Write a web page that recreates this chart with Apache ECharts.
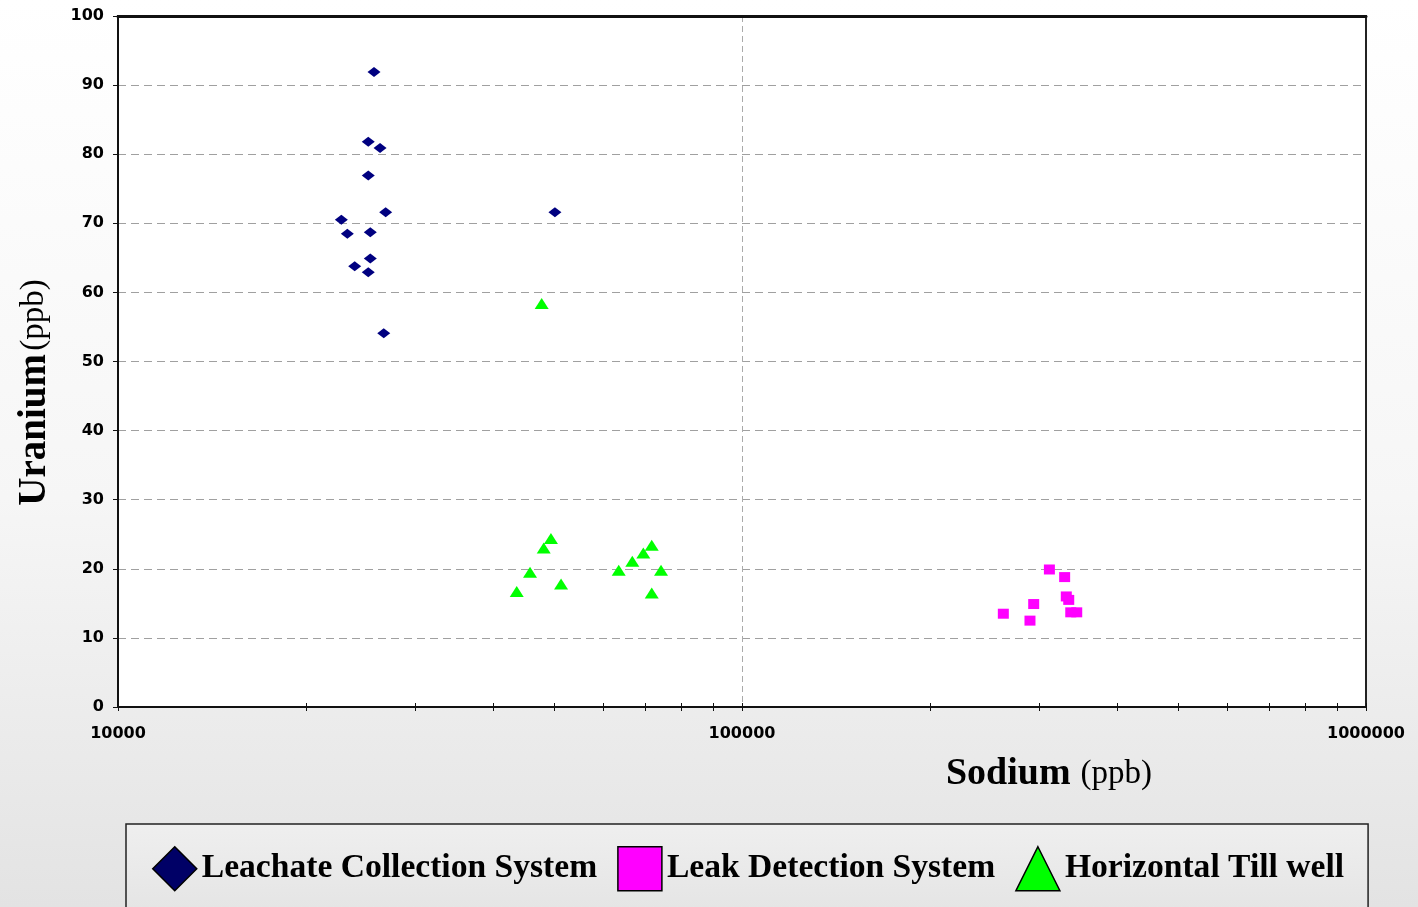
<!DOCTYPE html>
<html>
<head>
<meta charset="utf-8">
<script src="https://cdn.jsdelivr.net/npm/echarts@6/dist/echarts.min.js"></script>
<style>
html,body{margin:0;padding:0;}
#chart{width:1418px;height:907px;}
</style>
</head>
<body>
<div id="chart"></div>
<script>
// Sodium (ppb), Uranium (ppb)
var leachateSodium  = [25720, 25180, 26300, 25180, 26850, 22800, 23310, 25370, 25370, 23950, 25180, 26660, 50140];
var leachateUranium = [91.9, 81.8, 80.9, 76.9, 71.6, 70.5, 68.5, 68.7, 64.9, 63.8, 62.9, 54.1, 71.6];

var leakSodium  = [310900, 328900, 330900, 333900, 293400, 262300, 289400, 336400, 343900];
var leakUranium = [19.9, 18.8, 16.0, 15.5, 14.9, 13.5, 12.5, 13.7, 13.7];

var tillSodium  = [47750, 49410, 48110, 45740, 43550, 51290, 63450, 66710, 69480, 71670, 74170, 71670];
var tillUranium = [58.4, 24.4, 23.0, 19.5, 16.7, 17.8, 19.8, 21.1, 22.3, 23.4, 19.8, 16.5];

var seriesNames = ['Leachate Collection System', 'Leak Detection System', 'Horizontal Till well'];
var xTickValues = [10000, 20000, 30000, 40000, 50000, 60000, 70000, 80000, 90000, 100000,
                   200000, 300000, 400000, 500000, 600000, 700000, 800000, 900000, 1000000];
var yMin = 0, yMax = 100, yInterval = 10;
var xMin = 10000, xMax = 1000000;

function pairs(xs, ys) { return xs.map(function (x, i) { return [x, ys[i]]; }); }

var chart = echarts.init(document.getElementById('chart'));
var tickAxisBase = {
  type: 'log', logBase: 10, min: xMin, max: xMax, gridIndex: 0, position: 'bottom',
  axisLine: { show: false }, axisLabel: { show: false }, splitLine: { show: false }
};
chart.setOption({
  animation: false,
  backgroundColor: {
    type: 'linear', x: 0, y: 0, x2: 0, y2: 1,
    colorStops: [{ offset: 0, color: '#ffffff' }, { offset: 0.55, color: '#f6f6f6' }, { offset: 1, color: '#e3e3e3' }]
  },
  grid: {
    left: 118, right: 52, top: 16, bottom: 200,
    show: true, backgroundColor: '#ffffff', borderColor: '#111', borderWidth: 2
  },
  legend: {
    left: 126, top: 824,
    padding: [22, 24, 40, 26],
    backgroundColor: { type: 'linear', x: 0, y: 0, x2: 0, y2: 1,
      colorStops: [{ offset: 0, color: '#efefef' }, { offset: 1, color: '#e2e2e2' }] },
    borderColor: '#222', borderWidth: 1.5,
    itemWidth: 44, itemHeight: 44, itemGap: 20,
    textStyle: { fontFamily: 'Liberation Serif', fontWeight: 'bold', fontSize: 33.6, color: '#000', padding: [7, 0, 0, 0] },
    data: [
      { name: seriesNames[0], icon: 'diamond', itemStyle: { color: '#000066', borderColor: '#000', borderWidth: 1.5 } },
      { name: seriesNames[1], icon: 'rect', itemStyle: { color: '#ff00ff', borderColor: '#000', borderWidth: 1.5 } },
      { name: seriesNames[2], icon: 'triangle', itemStyle: { color: '#00ff00', borderColor: '#000', borderWidth: 1.5 } }
    ]
  },
  xAxis: [
    {
      type: 'log', logBase: 10, min: xMin, max: xMax, gridIndex: 0, position: 'bottom',
      name: '{b|Sodium}{r|(ppb)}',
      nameLocation: 'middle', nameGap: 48,
      nameTextStyle: {
        padding: [0, 0, 0, 614],
        rich: {
          b: { fontFamily: 'Liberation Serif', fontWeight: 'bold', fontSize: 38, color: '#000', padding: [0, 10, 0, 0] },
          r: { fontFamily: 'Liberation Serif', fontSize: 33, color: '#000' }
        }
      },
      axisLine: { show: true, onZero: false, lineStyle: { color: '#111', width: 2 } },
      axisTick: { show: false },
      axisLabel: {
        margin: 19,
        fontFamily: 'DejaVu Sans', fontWeight: 'bold', fontSize: 16, color: '#000',
        formatter: function (v) { return String(Math.round(v)); }
      },
      splitLine: { show: true, lineStyle: { color: '#aaaaaa', width: 1, type: [6, 4] } },
      minorTick: { show: false }, minorSplitLine: { show: false }
    },
    Object.assign({}, tickAxisBase, {
      axisTick: { show: true, inside: false, length: 4, customValues: xTickValues, lineStyle: { color: '#111', width: 1 } }
    }),
    Object.assign({}, tickAxisBase, {
      axisTick: { show: true, inside: true, length: 4, customValues: xTickValues, lineStyle: { color: '#111', width: 1 } }
    }),
    {
      type: 'log', logBase: 10, min: xMin, max: xMax, gridIndex: 0, position: 'top',
      axisLine: { show: true, lineStyle: { color: '#111', width: 3 } },
      axisTick: { show: false }, axisLabel: { show: false }, splitLine: { show: false }
    }
  ],
  yAxis: [
    {
      type: 'value', min: yMin, max: yMax, interval: yInterval, position: 'left',
      name: '{b|Uranium} {r|(ppb)}',
      nameLocation: 'middle', nameGap: 64, nameRotate: 90,
      nameTextStyle: {
        padding: [0, 62, 0, 0],
        rich: {
          b: { fontFamily: 'Liberation Serif', fontWeight: 'bold', fontSize: 39, color: '#000' },
          r: { fontFamily: 'Liberation Serif', fontSize: 33, color: '#000' }
        }
      },
      axisLine: { show: true, lineStyle: { color: '#111', width: 2 } },
      axisTick: { show: true, length: 5, lineStyle: { color: '#111' } },
      axisLabel: { margin: 14, fontFamily: 'DejaVu Sans', fontWeight: 'bold', fontSize: 16, color: '#000' },
      splitLine: { show: true, lineStyle: { color: '#a0a0a0', width: 1.2, type: [8, 5] } }
    },
    {
      type: 'value', min: yMin, max: yMax, interval: yInterval, position: 'right',
      axisLine: { show: true, lineStyle: { color: '#222', width: 2 } },
      axisTick: { show: false }, axisLabel: { show: false }, splitLine: { show: false }
    }
  ],
  series: [
    {
      name: seriesNames[0], type: 'scatter', xAxisIndex: 0, yAxisIndex: 0,
      symbol: 'diamond', symbolSize: [13, 10],
      itemStyle: { color: '#000080', opacity: 1 },
      data: pairs(leachateSodium, leachateUranium)
    },
    {
      name: seriesNames[1], type: 'scatter', xAxisIndex: 0, yAxisIndex: 0,
      symbol: 'rect', symbolSize: [11, 10],
      itemStyle: { color: '#ff00ff', opacity: 1 },
      data: pairs(leakSodium, leakUranium)
    },
    {
      name: seriesNames[2], type: 'scatter', xAxisIndex: 0, yAxisIndex: 0,
      symbol: 'triangle', symbolSize: [14, 11],
      itemStyle: { color: '#00ff00', opacity: 1 },
      data: pairs(tillSodium, tillUranium)
    }
  ]
});
</script>
</body>
</html>
